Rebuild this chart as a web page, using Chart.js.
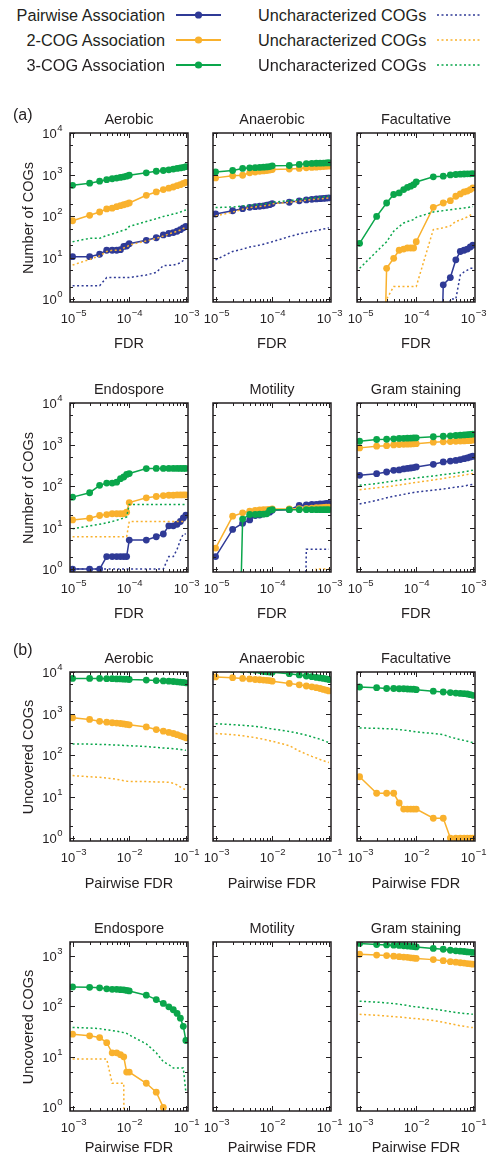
<!DOCTYPE html>
<html>
<head>
<meta charset="utf-8">
<script src="https://cdn.jsdelivr.net/npm/chart.js@4.4.1/dist/chart.umd.min.js"></script>
<style>
  body { margin: 0; background: #fff; font-family: "Liberation Sans", Arial, sans-serif; color: #231f20; }
  #fig { position: relative; width: 491px; height: 1156px; overflow: hidden; }
  .t { position: absolute; white-space: nowrap; line-height: 1; }
  canvas { position: absolute; }
</style>
</head>
<body>
<div id="fig"></div>
<script>
// x values (FDR thresholds)
const fdrA = [1e-5, 2e-5, 3e-5, 4e-5, 5e-5, 6e-5, 7e-5, 8e-5, 9e-5, 1e-4, 2e-4, 3e-4, 4e-4, 5e-4, 6e-4, 7e-4, 8e-4, 9e-4, 1e-3];
const fdrB = [1e-3, 2e-3, 3e-3, 4e-3, 5e-3, 6e-3, 7e-3, 8e-3, 9e-3, 1e-2, 2e-2, 3e-2, 4e-2, 5e-2, 6e-2, 7e-2, 8e-2, 9e-2, 1e-1];

// (a) number of COGs
const aerobicPair     = [10.5, 10.5, 12, 15, 15, 15, 15.5, 18.5, 19, 21.5, 26, 30, 35, 38, 40, 43, 47, 52, 56];
const aerobicPairUnc  = [2.1, 2.1, 2.1, 3.3, 3.3, 3.3, 3.3, 3.3, 3.3, 3.3, 3.8, 4.4, 6.4, 6.5, 6.6, 7, 7.5, 8.5, 9.5];
const aerobic2        = [77, 104, 125, 148, 155, 168, 178, 187, 196, 206, 316, 380, 435, 470, 500, 540, 570, 610, 650];
const aerobic2Unc     = [6.6, 9, 11, 14, 15, 15, 15, 17, 18, 20, 25, 29, 33, 37, 40, 43, 46, 50, 54];
const aerobic3        = [550, 620, 690, 750, 790, 820, 850, 880, 910, 960, 1100, 1200, 1250, 1300, 1350, 1400, 1440, 1480, 1550];
const aerobic3Unc     = [24, 29, 29, 34, 37, 40, 43, 46, 48, 56, 74, 86, 98, 105, 112, 118, 125, 133, 140];

const anaerobicPair    = [112, 134, 150, 162, 168, 172, 176, 182, 188, 200, 215, 232, 245, 252, 258, 262, 266, 270, 275];
const anaerobicPairUnc = [8.8, 14, 16, 18, 19, 20, 21, 22, 23, 24, 32, 37, 40, 43, 45, 47, 49, 50, 52];
const anaerobic2       = [830, 930, 960, 1100, 1150, 1200, 1220, 1250, 1280, 1320, 1350, 1400, 1450, 1480, 1500, 1530, 1550, 1580, 1600];
const anaerobic2Unc    = [100, 125, 145, 160, 166, 170, 175, 180, 185, 198, 212, 228, 240, 248, 255, 260, 264, 268, 272];
const anaerobic3       = [1150, 1250, 1400, 1450, 1460, 1480, 1500, 1520, 1550, 1620, 1650, 1750, 1820, 1850, 1870, 1880, 1890, 1900, 1920];
const anaerobic3Unc    = [160, 165, 175, 180, 185, 190, 195, 200, 205, 215, 235, 250, 262, 270, 278, 285, 290, 296, 300];

const facultPair    = [0, 0, 0, 0, 0, 0, 0, 0, 0, 0, 0, 2.2, 3.3, 8.8, 14, 15, 16, 18, 20];
const facultPairUnc = [0, 0, 0, 0, 0, 0, 0, 0, 0, 0, 0, 0, 1, 1, 3.8, 4.5, 5, 5.5, 5.5];
const facult2       = [0, 0, 5.5, 9.6, 15, 16, 17, 17, 17, 24, 162, 206, 235, 300, 340, 380, 400, 435, 475];
const facult2Unc    = [0, 0, 1, 2, 2, 2, 2, 2, 2, 2, 47, 52, 58, 74, 80, 88, 95, 105, 112];
const facult3       = [22, 98, 206, 330, 360, 435, 490, 525, 570, 660, 880, 910, 980, 1000, 1020, 1030, 1040, 1040, 1045];
const facult3Unc    = [5.5, 14, 24, 43, 56, 68, 74, 78, 82, 93, 125, 135, 142, 148, 152, 156, 160, 165, 170];

const endoPair    = [1, 1, 1, 2, 2, 2, 2, 2, 2, 5, 5, 6, 7, 11, 11, 12, 14, 17, 20];
const endoPairUnc = [1, 1, 1, 1, 1, 1, 1, 1, 1, 1, 1, 1, 1, 2, 2, 3, 5, 7, 7];
const endo2       = [15.3, 16.8, 19.5, 20.5, 21.5, 21.5, 21.5, 21.5, 23.5, 40, 52, 56, 59, 60, 60, 61, 61, 61, 61];
const endo2Unc    = [6, 6, 6, 6, 6, 6, 6, 6, 6, 14, 14, 14, 14, 14, 14, 14, 14, 14, 14];
const endo3       = [54, 69, 104, 118, 118, 124, 150, 165, 190, 200, 263, 265, 265, 265, 265, 265, 265, 265, 265];
const endo3Unc    = [9.3, 11, 12, 13, 14, 15, 16, 17, 18, 36, 36, 36, 36, 36, 36, 36, 36, 36, 36];

const motilPair    = [2, 9, 12.7, 15.3, 19.5, 20, 21.5, 23, 23.5, 26, 27, 34, 35, 36, 36, 37, 37, 38, 38];
const motilPairUnc = [0, 0, 0, 0, 0, 0, 0, 0, 0, 0, 0, 0, 3, 3, 3, 3, 3, 3, 3];
const motil2       = [3.2, 18.8, 22.6, 25, 26, 26.5, 27, 27, 27.5, 28, 28, 28.5, 29, 29.5, 30, 30, 30.5, 31, 31];
const motil2Unc    = [0, 0, 0, 0, 0, 0, 0, 0, 0, 0, 0, 0, 0, 0, 1, 1, 1, 1, 1];
const motil3       = [0, 0, 16, 20.6, 20.6, 21, 21, 21.5, 26, 27, 27, 27, 27, 27, 27, 27, 27, 27, 27];

const gramPair    = [181, 198, 218, 239, 245, 258, 265, 272, 278, 288, 333, 380, 400, 415, 435, 455, 475, 500, 522];
const gramPairUnc = [37, 45, 52, 57, 60, 63, 66, 68, 70, 72, 80, 85, 90, 94, 97, 100, 104, 107, 110];
const gram2       = [830, 910, 940, 980, 1000, 1010, 1020, 1030, 1040, 1050, 1140, 1160, 1180, 1200, 1210, 1220, 1240, 1250, 1270];
const gram2Unc    = [81, 90, 96, 101, 106, 110, 114, 117, 120, 122, 140, 152, 162, 170, 177, 184, 190, 195, 200];
const gram3       = [1200, 1320, 1340, 1370, 1400, 1410, 1420, 1430, 1440, 1450, 1540, 1580, 1620, 1650, 1680, 1700, 1730, 1750, 1780];
const gram3Unc    = [104, 115, 125, 132, 138, 143, 147, 150, 153, 156, 175, 188, 198, 205, 212, 220, 227, 234, 240];

// (b) uncovered COGs
const bAerobic2     = [790, 720, 650, 620, 600, 590, 575, 560, 545, 535, 475, 410, 375, 350, 330, 310, 290, 275, 260];
const bAerobic2Unc  = [32, 30, 29, 28, 27, 26, 25, 24, 23.5, 23, 23, 22.5, 22.5, 22, 21, 19, 17, 15.5, 14.5];
const bAerobic3     = [7000, 7000, 7000, 6900, 6900, 6800, 6800, 6700, 6700, 6600, 6400, 6200, 6100, 6000, 5900, 5800, 5700, 5600, 5500];
const bAerobic3Unc  = [185, 183, 180, 178, 176, 174, 172, 170, 169, 168, 160, 153, 148, 145, 142, 139, 136, 133, 130];

const bAnaerobic2    = [7600, 7300, 7000, 6800, 6600, 6500, 6400, 6300, 6200, 6000, 5300, 4900, 4600, 4400, 4200, 4000, 3800, 3650, 3500];
const bAnaerobic2Unc = [330, 310, 290, 275, 262, 250, 240, 230, 222, 215, 168, 125, 105, 93, 85, 78, 73, 69, 66];
const bAnaerobic3    = [11500, 11400, 11300, 11200, 11000, 10800, 10300, 10100, 10000, 9900, 9100, 8500, 8000, 7700, 7400, 7200, 7000, 6800, 6600];
const bAnaerobic3Unc = [570, 540, 520, 505, 490, 475, 460, 450, 435, 425, 370, 330, 300, 275, 255, 240, 225, 210, 200];

const bFacult2     = [30, 12, 12, 12, 7, 5, 5, 5, 5, 5, 3, 3, 1, 1, 1, 1, 1, 1, 1];
const bFacult3     = [4350, 4200, 4000, 4000, 3950, 3950, 3900, 3850, 3850, 3750, 3450, 3300, 3200, 3100, 3050, 3000, 2950, 2850, 2750];
const bFacult3Unc  = [450, 440, 430, 420, 410, 400, 390, 380, 370, 360, 330, 310, 270, 250, 235, 225, 215, 205, 200];

const bEndo2     = [28, 26, 24, 19, 12, 12, 11, 10, 5, 5, 3, 2, 1, 0, 0, 0, 0, 0, 0];
const bEndo2Unc  = [9, 9, 9, 9, 3, 3, 3, 3, 0, 0, 0, 0, 0, 0, 0, 0, 0, 0, 0];
const bEndo3     = [240, 235, 230, 220, 215, 215, 212, 210, 205, 200, 165, 135, 113, 97, 85, 72, 58, 40, 21];
const bEndo3Unc  = [38, 37, 36, 34, 33, 32, 31, 30, 29, 27, 18, 12, 8, 7, 6, 6, 6, 6, 2];

const bGram2     = [1060, 1020, 1000, 970, 950, 930, 920, 900, 890, 875, 830, 790, 755, 740, 720, 710, 695, 685, 675];
const bGram2Unc  = [69, 66, 64, 62, 61, 60, 59, 58, 57, 57, 52, 48, 45, 43, 41, 40, 39, 38, 38];
const bGram3     = [1730, 1650, 1620, 1600, 1580, 1560, 1540, 1520, 1500, 1480, 1380, 1330, 1270, 1240, 1220, 1200, 1180, 1170, 1150];
const bGram3Unc  = [125, 120, 116, 112, 109, 106, 103, 100, 98, 97, 88, 82, 78, 75, 73, 72, 71, 70, 69];

const BLUE = '#2f3a96', ORANGE = '#f9b12d', GREEN = '#0aa64b', INK = '#231f20';
const FONT = '"Liberation Sans", Arial, sans-serif';
// zero counts sit far below the log axis so the line drops off the bottom
const OFF_AXIS = 1e-9;

const fig = document.getElementById('fig');

function text(str, x, y, opts) {
  const d = document.createElement('div');
  d.className = 't';
  d.textContent = str;
  d.style.fontSize = (opts.size || 14.5) + 'px';
  d.style.left = x + 'px';
  d.style.top = y + 'px';
  let tr = 'translate(' + (opts.align === 'right' ? '-100%' : opts.align === 'left' ? '0' : '-50%') + ',-50%)';
  if (opts.rotate) tr += ' rotate(-90deg)';
  d.style.transform = tr;
  fig.appendChild(d);
}

function drawPow(ctx, exp, x, y, align) {
  const base = '10', sup = exp < 0 ? '\u2212' + (-exp) : String(exp);
  ctx.font = '13px ' + FONT;
  const wb = ctx.measureText(base).width;
  ctx.font = '9.5px ' + FONT;
  const ws = ctx.measureText(sup).width;
  let x0 = align === 'right' ? x - wb - ws : x - (wb + ws) / 2;
  ctx.textAlign = 'left';
  ctx.textBaseline = 'middle';
  ctx.font = '13px ' + FONT;
  ctx.fillText(base, x0, y + 1);
  ctx.font = '9.5px ' + FONT;
  ctx.fillText(sup, x0 + wb + 0.5, y - 5);
}

function logTicks(min, max, mantissas) {
  const out = [];
  for (let k = Math.floor(Math.log10(min)); k <= Math.ceil(Math.log10(max)); k++) {
    for (const m of mantissas) {
      const v = m * Math.pow(10, k);
      if (v >= min * 0.999 && v <= max * 1.001) out.push({ v, major: m === 1, k });
    }
  }
  return out;
}

const frame = {
  id: 'frame',
  afterDatasetsDraw(chart, args, opts) {
    const { ctx, chartArea: a, scales: { x, y } } = chart;
    ctx.save();
    ctx.strokeStyle = INK;
    ctx.fillStyle = INK;
    ctx.lineWidth = 1;
    for (const t of logTicks(x.min, x.max, [1, 2, 3, 4, 5, 6, 7, 8, 9])) {
      const px = Math.round(x.getPixelForValue(t.v)) + 0.5;
      const len = t.major ? 5 : 3;
      ctx.beginPath();
      ctx.moveTo(px, a.bottom); ctx.lineTo(px, a.bottom - len);
      ctx.moveTo(px, a.top); ctx.lineTo(px, a.top + len);
      ctx.stroke();
      if (t.major) drawPow(ctx, t.k, px, a.bottom + 16, 'center');
    }
    for (const t of logTicks(y.min, y.max, [1, 2, 5])) {
      const py = Math.round(y.getPixelForValue(t.v)) + 0.5;
      const len = t.major ? 5 : 3;
      ctx.beginPath();
      ctx.moveTo(a.left, py); ctx.lineTo(a.left + len, py);
      ctx.moveTo(a.right, py); ctx.lineTo(a.right - len, py);
      ctx.stroke();
      if (t.major && opts.yLabels) drawPow(ctx, t.k, a.left - 8, py, 'right');
    }
    ctx.lineWidth = 1.5;
    ctx.strokeRect(a.left, a.top, a.right - a.left, a.bottom - a.top);
    ctx.restore();
  }
};

function series(xs, ys, color, dotted) {
  return {
    data: xs.map((xv, i) => ({ x: xv, y: ys[i] > 0 ? ys[i] : OFF_AXIS })),
    borderColor: color,
    backgroundColor: color,
    borderWidth: 1.5,
    borderDash: dotted ? [2, 2.5] : [],
    pointRadius: dotted ? 0 : 3.4,
    pointBorderWidth: 0,
    pointHoverRadius: 0,
    tension: 0,
    fill: false
  };
}

const COLS = [70, 213, 357];
const ROWS = [133, 403, 672, 942];
const XTITLE = [41, 41, 42, 36];
const BW = 118, BH = 169;
const PAD = { left: 62, top: 12, right: 22, bottom: 28 };

function panel(col, row, title, xs, xRange, yRange, lines) {
  const cv = document.createElement('canvas');
  const w = BW + PAD.left + PAD.right, h = BH + PAD.top + PAD.bottom;
  cv.width = w; cv.height = h;
  cv.style.left = (COLS[col] - PAD.left) + 'px';
  cv.style.top = (ROWS[row] - PAD.top) + 'px';
  cv.style.width = w + 'px'; cv.style.height = h + 'px';
  fig.appendChild(cv);

  const datasets = lines.map((l, i) => Object.assign(series(xs, l[0], l[1], l[2]), { order: lines.length - i }));
  new Chart(cv, {
    type: 'line',
    data: { datasets },
    options: {
      responsive: false,
      animation: false,
      devicePixelRatio: 1,
      layout: { padding: PAD },
      plugins: { legend: { display: false }, tooltip: { enabled: false }, frame: { yLabels: col === 0 } },
      scales: {
        x: { type: 'logarithmic', min: xRange[0], max: xRange[1], display: false },
        y: { type: 'logarithmic', min: yRange[0], max: yRange[1], display: false }
      }
    },
    plugins: [frame]
  });
  text(title, COLS[col] + BW / 2, ROWS[row] - 14, { size: 14.5 });
}

const xA = [9e-6, 1.09e-3], xB = [9e-4, 0.109];
const yFull = [0.85, 10000], yLow = [0.85, 1850];

panel(0, 0, 'Aerobic', fdrA, xA, yFull, [
  [aerobicPair, BLUE, false], [aerobicPairUnc, BLUE, true],
  [aerobic2, ORANGE, false], [aerobic2Unc, ORANGE, true],
  [aerobic3, GREEN, false], [aerobic3Unc, GREEN, true]]);
panel(1, 0, 'Anaerobic', fdrA, xA, yFull, [
  [anaerobicPair, BLUE, false], [anaerobicPairUnc, BLUE, true],
  [anaerobic2, ORANGE, false], [anaerobic2Unc, ORANGE, true],
  [anaerobic3, GREEN, false], [anaerobic3Unc, GREEN, true]]);
panel(2, 0, 'Facultative', fdrA, xA, yFull, [
  [facultPair, BLUE, false], [facultPairUnc, BLUE, true],
  [facult2, ORANGE, false], [facult2Unc, ORANGE, true],
  [facult3, GREEN, false], [facult3Unc, GREEN, true]]);
panel(0, 1, 'Endospore', fdrA, xA, yFull, [
  [endoPair, BLUE, false], [endoPairUnc, BLUE, true],
  [endo2, ORANGE, false], [endo2Unc, ORANGE, true],
  [endo3, GREEN, false], [endo3Unc, GREEN, true]]);
panel(1, 1, 'Motility', fdrA, xA, yFull, [
  [motilPair, BLUE, false], [motilPairUnc, BLUE, true],
  [motil2, ORANGE, false], [motil2Unc, ORANGE, true],
  [motil3, GREEN, false]]);
panel(2, 1, 'Gram staining', fdrA, xA, yFull, [
  [gramPair, BLUE, false], [gramPairUnc, BLUE, true],
  [gram2, ORANGE, false], [gram2Unc, ORANGE, true],
  [gram3, GREEN, false], [gram3Unc, GREEN, true]]);

panel(0, 2, 'Aerobic', fdrB, xB, yFull, [
  [bAerobic2, ORANGE, false], [bAerobic2Unc, ORANGE, true],
  [bAerobic3, GREEN, false], [bAerobic3Unc, GREEN, true]]);
panel(1, 2, 'Anaerobic', fdrB, xB, yFull, [
  [bAnaerobic2, ORANGE, false], [bAnaerobic2Unc, ORANGE, true],
  [bAnaerobic3, GREEN, false], [bAnaerobic3Unc, GREEN, true]]);
panel(2, 2, 'Facultative', fdrB, xB, yFull, [
  [bFacult2, ORANGE, false],
  [bFacult3, GREEN, false], [bFacult3Unc, GREEN, true]]);
panel(0, 3, 'Endospore', fdrB, xB, yLow, [
  [bEndo2, ORANGE, false], [bEndo2Unc, ORANGE, true],
  [bEndo3, GREEN, false], [bEndo3Unc, GREEN, true]]);
panel(1, 3, 'Motility', fdrB, xB, yLow, []);
panel(2, 3, 'Gram staining', fdrB, xB, yLow, [
  [bGram2, ORANGE, false], [bGram2Unc, ORANGE, true],
  [bGram3, GREEN, false], [bGram3Unc, GREEN, true]]);

// axis titles and panel letters
[[0, 'Number of COGs', 'FDR'], [1, 'Number of COGs', 'FDR'], [2, 'Uncovered COGs', 'Pairwise FDR'], [3, 'Uncovered COGs', 'Pairwise FDR']].forEach(([r, yt, xt]) => {
  text(yt, 28, ROWS[r] + BH / 2, { size: 14.5, rotate: true });
  COLS.forEach(c => text(xt, c + BW / 2, ROWS[r] + BH + XTITLE[r], { size: 14.5 }));
});
text('(a)', 13, 115, { size: 16, align: 'left' });
text('(b)', 13, 650, { size: 16, align: 'left' });

// legend
const legendRows = [['Pairwise Association', BLUE, 15], ['2-COG Association', ORANGE, 40], ['3-COG Association', GREEN, 65]];
const svgNS = 'http://www.w3.org/2000/svg';
const svg = document.createElementNS(svgNS, 'svg');
svg.setAttribute('width', 491); svg.setAttribute('height', 80);
svg.style.position = 'absolute'; svg.style.left = '0'; svg.style.top = '0';
fig.appendChild(svg);
legendRows.forEach(([label, color, yy]) => {
  text(label, 165, yy, { size: 16.3, align: 'right' });
  text('Uncharacterized COGs', 258, yy, { size: 16.3, align: 'left' });
  const ln = document.createElementNS(svgNS, 'line');
  ln.setAttribute('x1', 176); ln.setAttribute('x2', 221); ln.setAttribute('y1', yy); ln.setAttribute('y2', yy);
  ln.setAttribute('stroke', color); ln.setAttribute('stroke-width', 1.8);
  svg.appendChild(ln);
  const c = document.createElementNS(svgNS, 'circle');
  c.setAttribute('cx', 198.5); c.setAttribute('cy', yy); c.setAttribute('r', 3.6); c.setAttribute('fill', color);
  svg.appendChild(c);
  const d = document.createElementNS(svgNS, 'line');
  d.setAttribute('x1', 437); d.setAttribute('x2', 481); d.setAttribute('y1', yy); d.setAttribute('y2', yy);
  d.setAttribute('stroke', color); d.setAttribute('stroke-width', 1.5); d.setAttribute('stroke-dasharray', '2 2.5');
  svg.appendChild(d);
});
</script>
</body>
</html>
